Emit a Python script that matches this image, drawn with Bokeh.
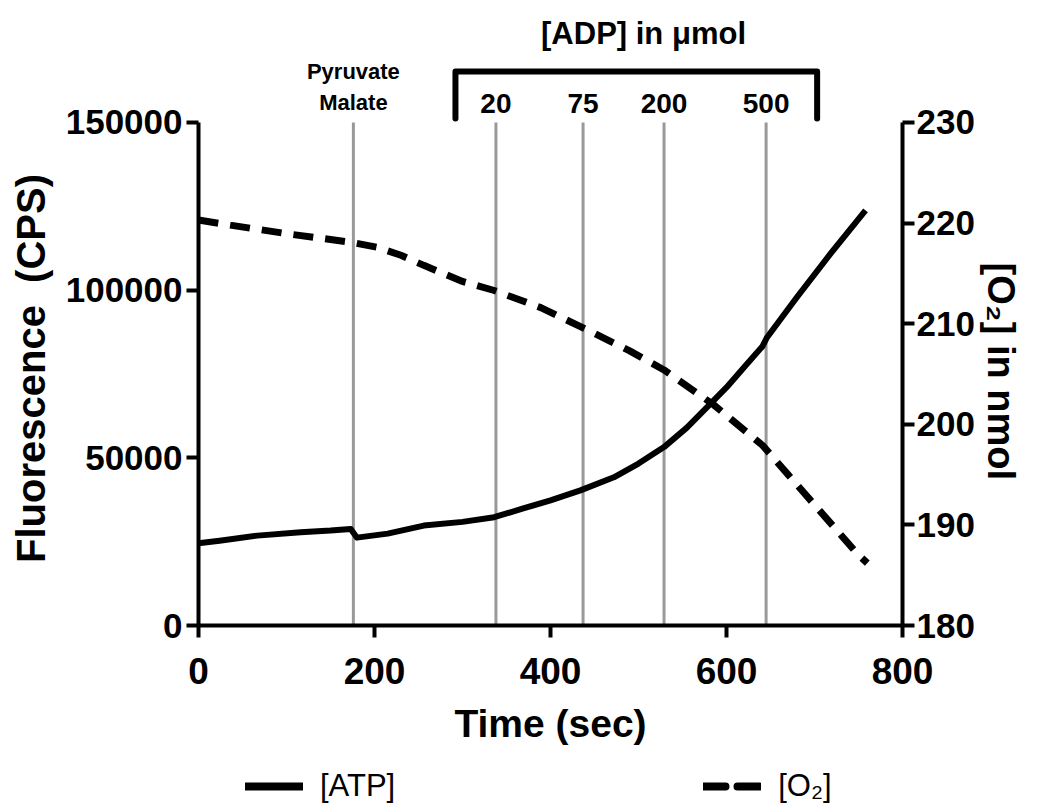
from bokeh.plotting import figure
from bokeh.layouts import column
from bokeh.models import (Range1d, LinearAxis, FixedTicker, NumeralTickFormatter,
                          Legend, LegendItem)
from bokeh.embed import file_html
from bokeh.resources import INLINE
from bokeh.core.properties import value

# ---------------- data ----------------
time_atp = [0, 24, 67, 116, 150, 173, 180, 215, 256, 300, 336, 369, 400, 434,
            472, 500, 529, 555, 578, 600, 620, 641, 646, 680, 718, 758]
atp = [24500, 25300, 26800, 27800, 28300, 28800, 26200, 27400, 29800, 30900,
       32300, 34900, 37300, 40300, 44200, 48300, 53200, 59000, 65100, 71000,
       77000, 83300, 85900, 97900, 110800, 123800]

time_o2 = [0, 36, 104, 173, 203, 230, 256, 300, 336, 389, 446, 490, 529, 586,
           641, 670, 699, 749, 760]
o2 = [220.3, 219.8, 218.9, 218.1, 217.6, 216.8, 215.8, 214.2, 213.3, 211.6,
      209.2, 207.3, 205.4, 201.9, 197.9, 195.0, 192.1, 187.1, 186.2]

event_times = [176, 338, 437, 529, 645]          # additions (sec)
adp_doses = ["20", "75", "200", "500"]           # µmol, at event_times[1:]
substrate_label = ["Pyruvate", "Malate"]
series_names = ["[ATP]", "[O\u2082]"]

x_ticks = [0, 200, 400, 600, 800]
left_ticks = [0, 50000, 100000, 150000]
right_ticks = [180, 190, 200, 210, 220, 230]

# ---------------- figure ----------------
FONT = "Liberation Sans"
Y_TOP = 183100           # frame extends above the axis for the annotations
LEFT_MAX = 150000
R_MIN, R_MAX = 180, 230
r_top = R_MIN + Y_TOP * (R_MAX - R_MIN) / LEFT_MAX
NB = "\u00a0"

p = figure(frame_width=704, frame_height=614,
           x_range=Range1d(0, 800), y_range=Range1d(0, Y_TOP),
           output_backend="svg", toolbar_location=None,
           min_border_left=198, min_border_right=144,
           min_border_top=11, min_border_bottom=130)
p.outline_line_color = None
p.xgrid.visible = False
p.ygrid.visible = False
p.background_fill_color = "white"
p.border_fill_color = "white"
p.extra_y_ranges = {"o2": Range1d(R_MIN, r_top)}

def style_axis(ax):
    ax.axis_line_width = 4
    ax.axis_line_color = "black"
    ax.major_tick_line_width = 4
    ax.major_tick_line_color = "black"
    ax.major_tick_out = 12
    ax.major_tick_in = 0
    ax.minor_tick_line_color = None
    ax.major_label_text_font = FONT
    ax.major_label_text_font_style = "bold"
    ax.major_label_text_font_size = "35px"
    ax.major_label_text_color = "black"
    ax.axis_label_text_font = FONT
    ax.axis_label_text_font_style = "bold"
    ax.axis_label_text_font_size = "38px"
    ax.axis_label_text_color = "black"

xa = p.xaxis[0]
style_axis(xa)
xa.ticker = FixedTicker(ticks=x_ticks)
xa.bounds = (0, 800)
xa.axis_label = "Time (sec)"
xa.major_label_text_font_size = "37px"
xa.axis_label_text_font_size = "39px"
xa.major_label_standoff = 20
xa.axis_label_standoff = 15

ya = p.yaxis[0]
style_axis(ya)
ya.ticker = FixedTicker(ticks=left_ticks)
ya.formatter = NumeralTickFormatter(format="0")
ya.bounds = (0, LEFT_MAX)
ya.axis_label = "Fluorescence " + NB + "(CPS)" + NB * 9
ya.axis_label_text_font_size = "40px"
ya.major_label_standoff = 4
ya.axis_label_standoff = 10

ra = LinearAxis(y_range_name="o2", axis_label=NB * 10 + "[O\u2082] in nmol",
                ticker=FixedTicker(ticks=right_ticks), bounds=(R_MIN, R_MAX))
style_axis(ra)
ra.major_label_standoff = 2
ra.axis_label_standoff = 2
p.add_layout(ra, "right")

# grey event lines
p.segment(x0=event_times, x1=event_times, y0=[0] * len(event_times),
          y1=[LEFT_MAX] * len(event_times), line_color="#999999", line_width=3)

# curves
ATP_STYLE = dict(line_color="black", line_width=6, line_join="round")
O2_STYLE = dict(line_color="black", line_width=7, line_dash="20 12")
p.line(time_atp, atp, **ATP_STYLE)
p.line(time_o2, o2, y_range_name="o2", **O2_STYLE)

# annotations above the axis
BRACKET_T = [292, 703]
BRACKET_Y = [151200, 165200]
p.line(x=[BRACKET_T[0], BRACKET_T[0], BRACKET_T[1], BRACKET_T[1]],
       y=[BRACKET_Y[0], BRACKET_Y[1], BRACKET_Y[1], BRACKET_Y[0]],
       line_color="black", line_width=6, line_cap="round", line_join="round")

p.text(x=[505.7], y=[176500], text=["[ADP] in \u03bcmol"],
       text_font=value(FONT), text_font_style="bold", text_font_size="31px",
       text_align="center", text_baseline="alphabetic", text_color="black")

p.text(x=event_times[1:], y=[155700] * len(adp_doses), text=adp_doses,
       text_font=value(FONT), text_font_style="bold", text_font_size="28px",
       text_align="center", text_baseline="alphabetic", text_color="black")

p.text(x=[event_times[0]] * 2, y=[165200, 156000], text=substrate_label,
       text_font=value(FONT), text_font_style="bold", text_font_size="22px",
       text_align="center", text_baseline="alphabetic", text_color="black")

# ---------------- legend strip below the chart ----------------
# (the series are re-drawn here far outside the strip's visible range, only
#  so that the legend has renderers to take its glyph styles from)
leg = figure(frame_width=1046, frame_height=55, min_border=0,
             x_range=Range1d(-1, 0), y_range=Range1d(-1, 0),
             x_axis_location=None, y_axis_location=None,
             output_backend="svg", toolbar_location=None)
leg.outline_line_color = None
leg.xgrid.visible = False
leg.ygrid.visible = False
l_atp = leg.line(time_atp, atp, line_color="black", line_width=8,
                 line_cap="round")
l_o2 = leg.line(time_o2, o2, line_color="black", line_width=8,
                line_cap="round", line_dash="22 12")
legend = Legend(items=[LegendItem(label=series_names[0], renderers=[l_atp]),
                       LegendItem(label=series_names[1], renderers=[l_o2])],
                orientation="horizontal", location=(245, 6),
                glyph_width=58, glyph_height=30, label_standoff=17,
                spacing=308, padding=0, margin=0,
                label_text_font=FONT, label_text_font_size="31px",
                label_text_color="black",
                border_line_color=None, background_fill_alpha=0)
leg.add_layout(legend, "center")

open("out.html", "w").write(file_html(column(p, leg), INLINE))
